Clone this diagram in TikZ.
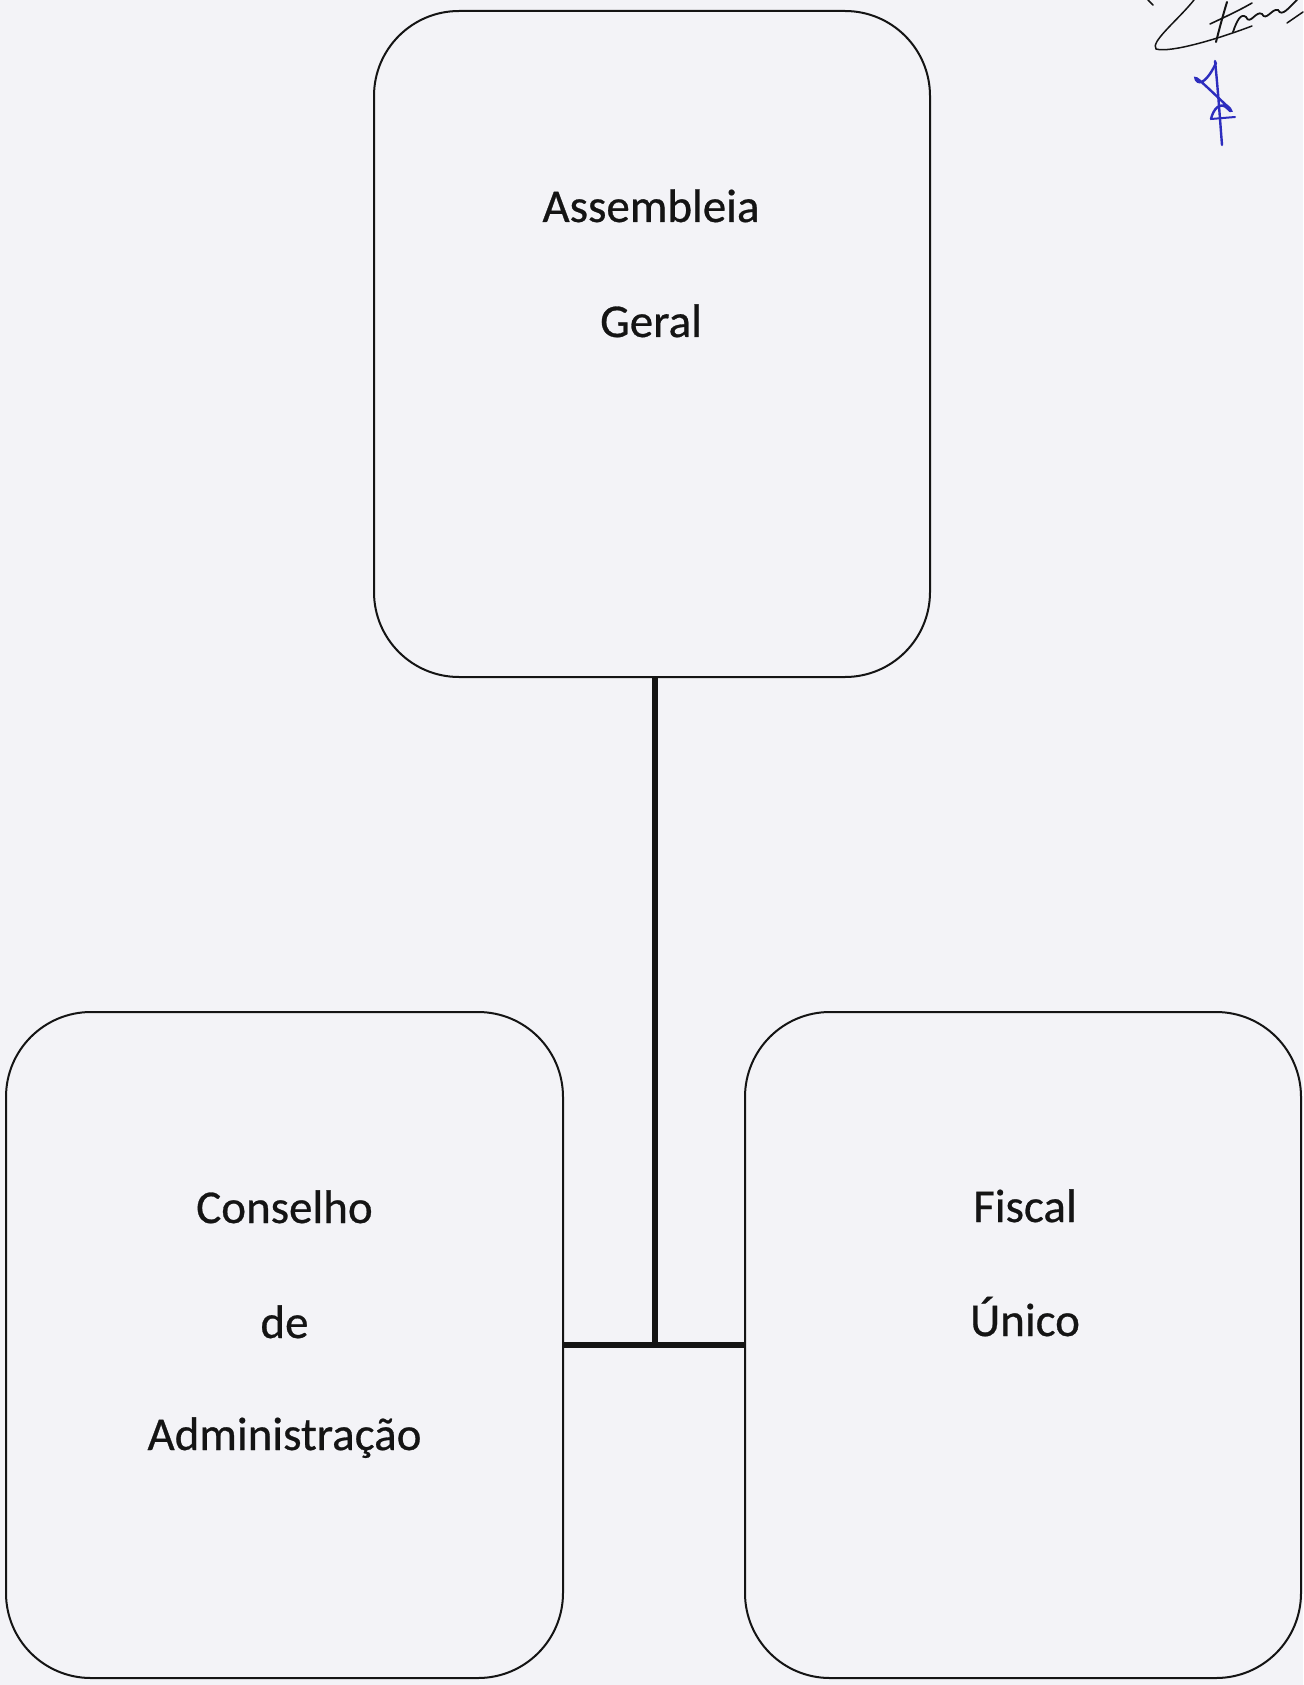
\documentclass[tikz,border=0pt]{standalone}
\usepackage{fontspec}
\setmainfont[FakeBold=0.6,BoldFont={Carlito}]{Carlito}
\definecolor{paper}{RGB}{243,243,247}
\definecolor{ink}{RGB}{20,20,20}
\definecolor{bluepen}{RGB}{45,45,190}
\begin{document}
\begin{tikzpicture}[x=1pt,y=-1pt,
  orgbox/.style={draw=ink,line width=2pt,rounded corners=85pt,fill=none,inner sep=0pt},
  lbl/.style={anchor=base,inner sep=0pt,font=\fontsize{47}{56}\selectfont,text=ink},
  conn/.style={draw=ink,line width=6.5pt}]
\fill[paper] (0,0) rectangle (1303,1685);
\useasboundingbox (0,0) rectangle (1303,1685);
% boxes
\node[orgbox,minimum width=556pt,minimum height=666pt] (ag) at (652,344) {};
\node[orgbox,minimum width=557pt,minimum height=666pt] (ca) at (284.5,1345) {};
\node[orgbox,minimum width=556pt,minimum height=666pt] (fu) at (1023,1345) {};
% texts
\node[lbl] (t1) at (651,222) {Assembleia};
\node[lbl] (t2) at (651,337) {Geral};
\node[lbl] (t3) at (284.5,1223) {Conselho};
\node[lbl] (t4) at (284.5,1338) {de};
\node[lbl] (t5) at (284.5,1450) {Administração};
\node[lbl] (t6) at (1025,1222) {Fiscal};
\node[lbl] (t7) at (1025,1336) {Único};
% connectors
\coordinate (j) at (655,1345);
\draw[conn] (ag.south -| j) -- (j);
\draw[conn] (ca.east) -- (fu.west);
% signature (black)
\draw[ink,line width=1.5pt,line cap=round] (1194,0) .. controls (1178,20) and (1150,42) .. (1156,49)
  .. controls (1170,53) and (1215,40) .. (1252,26);
\draw[ink,line width=1.5pt,line cap=round] (1148,0) -- (1153,5);
\draw[ink,line width=2pt,line cap=round] (1227,2) .. controls (1223,15) and (1219,30) .. (1216,42);
\draw[ink,line width=1.6pt,line cap=round] (1210,24) .. controls (1225,17) and (1240,10) .. (1252,3);
\draw[ink,line width=1.8pt,line cap=round] (1233,32) .. controls (1237,20) and (1241,13) .. (1246,17)
  .. controls (1250,26) and (1256,10) .. (1262,14) .. controls (1266,22) and (1272,8) .. (1278,10)
  .. controls (1282,18) and (1290,6) .. (1297,0);
\draw[ink,line width=1.5pt,line cap=round] (1287,23) -- (1303,12);
% signature (blue)
\draw[bluepen,line width=2.4pt,line cap=round] (1215,61) .. controls (1218,90) and (1220,120) .. (1222,145);
\draw[bluepen,line width=2.4pt,line cap=round] (1216,63) .. controls (1208,80) and (1200,86) .. (1196,80)
  .. controls (1192,72) and (1210,90) .. (1226,105) .. controls (1234,111) and (1231,113) .. (1228,109)
  .. controls (1220,100) and (1213,110) .. (1211,119);
\draw[bluepen,line width=2pt,line cap=round] (1211,119) -- (1235,117);
\end{tikzpicture}
\end{document}
